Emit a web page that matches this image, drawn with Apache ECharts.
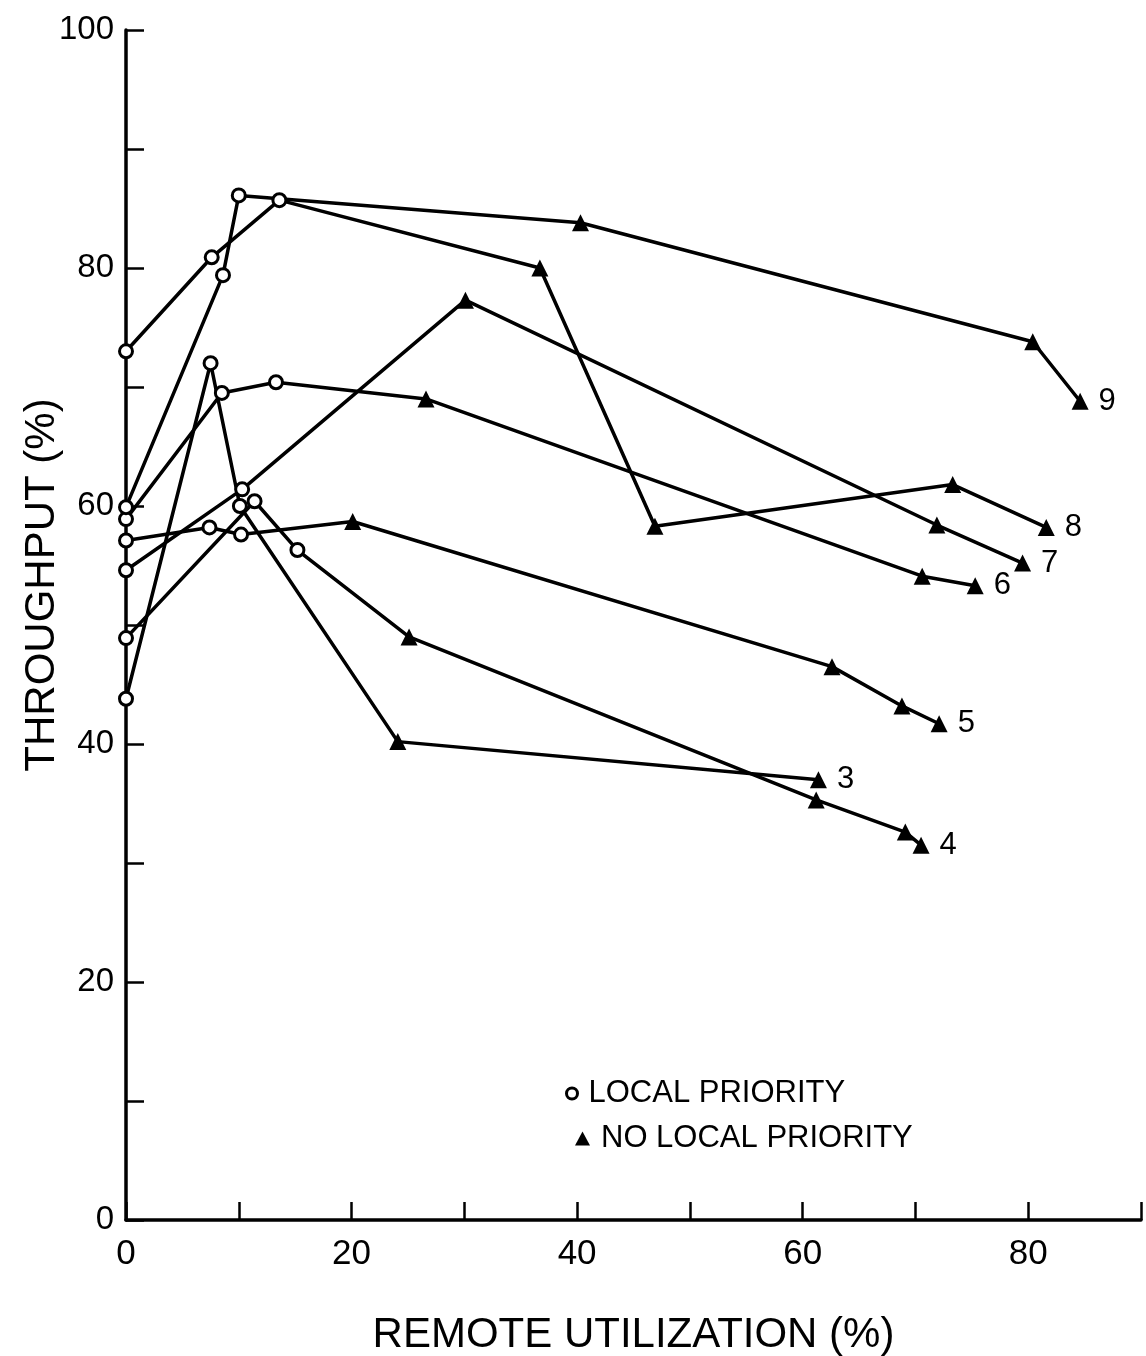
<!DOCTYPE html>
<html>
<head>
<meta charset="utf-8">
<title>Throughput vs remote utilization</title>
<script src="https://cdn.jsdelivr.net/npm/echarts@6/dist/echarts.min.js"></script>
<style>
  html, body { margin: 0; padding: 0; background: #fff; }
  #chart { width: 1146px; height: 1356px; }
</style>
</head>
<body>
<div id="chart"></div>
<script>
// each point: [remote utilization %, throughput %, 'L' local priority | 'N' no local priority]
const curve3 = [[0, 43.8, 'L'], [7.5, 72.0, 'L'], [10.1, 60.0, 'L'], [24.1, 40.2, 'N'], [61.4, 37.0, 'N']];
const curve4 = [[0, 48.9, 'L'], [11.4, 60.4, 'L'], [15.2, 56.3, 'L'], [25.1, 49.0, 'N'], [61.2, 35.3, 'N'], [69.1, 32.6, 'N'], [70.5, 31.5, 'N']];
const curve5 = [[0, 57.1, 'L'], [7.4, 58.2, 'L'], [10.2, 57.6, 'L'], [20.1, 58.7, 'N'], [62.6, 46.5, 'N'], [68.8, 43.2, 'N'], [72.1, 41.7, 'N']];
const curve6 = [[0, 58.9, 'L'], [8.5, 69.5, 'L'], [13.3, 70.4, 'L'], [26.6, 69.0, 'N'], [70.6, 54.1, 'N'], [75.3, 53.3, 'N']];
const curve7 = [[0, 54.6, 'L'], [10.3, 61.4, 'L'], [30.1, 77.3, 'N'], [71.9, 58.4, 'N'], [79.5, 55.2, 'N']];
const curve8 = [[0, 73.0, 'L'], [7.6, 80.9, 'L'], [13.6, 85.7, 'L'], [36.7, 80.0, 'N'], [46.9, 58.3, 'N'], [73.3, 61.8, 'N'], [81.6, 58.2, 'N']];
const curve9 = [[0, 59.9, 'L'], [8.6, 79.4, 'L'], [10.0, 86.1, 'L'], [40.3, 83.8, 'N'], [80.4, 73.8, 'N'], [84.6, 68.8, 'N']];

const curveNames = ['3', '4', '5', '6', '7', '8', '9'];
const curves = [curve3, curve4, curve5, curve6, curve7, curve8, curve9];

const xLabelValues = [0, 20, 40, 60, 80];
const yLabelValues = [0, 20, 40, 60, 80, 100];

const LOCAL = 'LOCAL PRIORITY';
const NO_LOCAL = 'NO LOCAL PRIORITY';

const font = 'Liberation Sans, Arial, sans-serif';

const chart = echarts.init(document.getElementById('chart'));

const curveSeries = curves.map((pts, idx) => {
  const name = curveNames[idx];
  return {
    name: name,
    type: 'line',
    silent: true,
    showAllSymbol: true,
    lineStyle: { color: '#000', width: 3.5 },
    data: pts.map((p, i) => {
      const local = p[2] === 'L';
      const item = {
        value: [p[0], p[1]],
        symbol: local ? 'circle' : 'triangle',
        symbolSize: local ? 13 : 17,
        itemStyle: local
          ? { color: '#fff', borderColor: '#000', borderWidth: 3 }
          : { color: '#000', borderWidth: 0 }
      };
      if (i === pts.length - 1) {
        item.label = {
          show: true,
          position: 'right',
          distance: 10,
          formatter: name,
          fontSize: 31,
          fontFamily: font,
          color: '#000'
        };
      }
      return item;
    })
  };
});

// empty series only so the legend has something to point at
const legendSeries = [
  { name: LOCAL, type: 'line', data: [] },
  { name: NO_LOCAL, type: 'line', data: [] }
];

const legendText = { fontSize: 31, fontFamily: font, color: '#000', padding: [0, 0, 0, 6] };

const option = {
  animation: false,
  backgroundColor: '#fff',
  grid: { left: 126, right: 5, top: 30, bottom: 136, outerBoundsMode: 'none' },
  legend: [
    {
      data: [{ name: LOCAL, icon: 'circle', itemStyle: { color: '#fff', borderColor: '#000', borderWidth: 3 } }],
      left: 560, top: 1073,
      itemWidth: 11, itemHeight: 11,
      selectedMode: false,
      textStyle: legendText
    },
    {
      data: [{ name: NO_LOCAL, icon: 'triangle', itemStyle: { color: '#000', borderWidth: 0 } }],
      left: 570, top: 1118,
      itemWidth: 15, itemHeight: 14,
      selectedMode: false,
      textStyle: legendText
    }
  ],
  xAxis: {
    type: 'value',
    min: 0, max: 90, interval: 10,
    name: 'REMOTE UTILIZATION (%)',
    nameLocation: 'middle',
    nameGap: 94,
    nameTextStyle: { fontSize: 42, fontFamily: font, color: '#000' },
    axisLine: { lineStyle: { color: '#000', width: 3.5 } },
    axisTick: { inside: true, length: 18, lineStyle: { color: '#000', width: 2.5 } },
    splitLine: { show: false },
    axisLabel: {
      margin: 17,
      fontSize: 35,
      fontFamily: font,
      color: '#000',
      formatter: v => (xLabelValues.includes(v) ? String(v) : '')
    }
  },
  yAxis: {
    type: 'value',
    min: 0, max: 100, interval: 10,
    name: 'THROUGHPUT (%)',
    nameLocation: 'middle',
    nameRotate: 90,
    nameGap: 63,
    nameMoveOverlap: false,
    nameTextStyle: { fontSize: 42, fontFamily: font, color: '#000', padding: [0, 0, 0, 80] },
    axisLine: { lineStyle: { color: '#000', width: 3.5 } },
    axisTick: { inside: true, length: 18, lineStyle: { color: '#000', width: 2.5 } },
    splitLine: { show: false },
    axisLabel: {
      margin: 12,
      fontSize: 33,
      fontFamily: font,
      color: '#000',
      formatter: v => (yLabelValues.includes(v) ? String(v) : '')
    }
  },
  series: curveSeries.concat(legendSeries)
};

chart.setOption(option);
</script>
</body>
</html>
